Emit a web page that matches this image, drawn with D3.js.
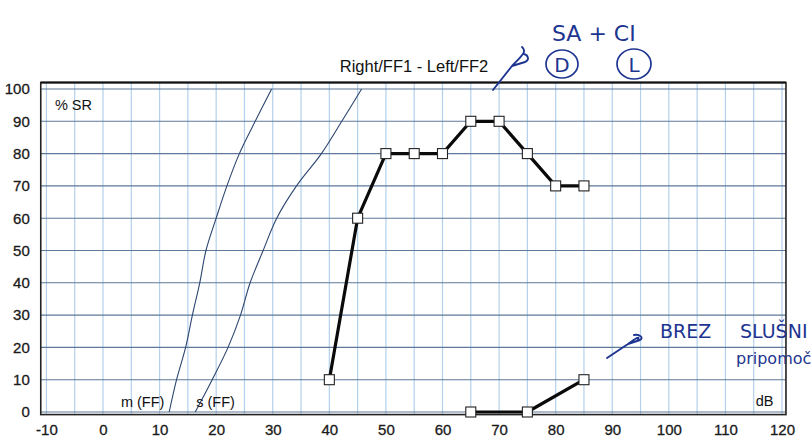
<!DOCTYPE html>
<html><head><meta charset="utf-8">
<script src="https://cdnjs.cloudflare.com/ajax/libs/d3/7.8.5/d3.min.js"></script>
<style>
html,body{margin:0;padding:0;background:#fff;}
svg{display:block;}
text{font-family:"Liberation Sans",Arial,sans-serif;}
.hand{font-family:"DejaVu Sans",sans-serif;fill:#1d3590;}
</style></head><body>
<script>
// ---- data ----
const xTicks = [-10,0,10,20,30,40,50,60,70,80,90,100,110,120];
const yTicks = [0,10,20,30,40,50,60,70,80,90,100];
const title = "Right/FF1 - Left/FF2";
// reference curves (normal hearing): m (FF) and s (FF)
const mCurveDb  = [11.7,13.0,14.6,15.8,17.1,18.2,20.0,21.9,24.1,26.9,29.8];
const mCurvePct = [0,10,20,30,40,50,60,70,80,90,100];
const sCurveDb  = [16.3,19.3,22.1,24.3,26.0,28.3,30.7,34.2,38.6,42.2,45.7];
const sCurvePct = [0,10,20,30,40,50,60,70,80,90,100];
// measured series
const ff1Db  = [40,45,50,55,60,65,70,75,80,85];
const ff1Pct = [10,60,80,80,80,90,90,80,70,70];
const ff2Db  = [65,75,85];
const ff2Pct = [0,0,10];

const W=812,H=439;
const svg=d3.select("body").append("svg").attr("width",W).attr("height",H);
const x=d3.scaleLinear().domain([0,120]).range([103,782]);
const y=d3.scaleLinear().domain([0,100]).range([412,89]);
const xL=x(-11), xR=x(120.7), yT=y(102), yB=y(-0.8);

// vertical grid every 5 dB
const vg=d3.range(-10,121,5);
svg.append("g").selectAll("line").data(vg).join("line")
  .attr("x1",d=>x(d)).attr("x2",d=>x(d)).attr("y1",yT).attr("y2",yB)
  .attr("stroke","#b3d0ec").attr("stroke-width",1.2);
// horizontal grid every 10 %
svg.append("g").selectAll("line").data(yTicks).join("line")
  .attr("x1",xL).attr("x2",xR).attr("y1",d=>y(d)).attr("y2",d=>y(d))
  .attr("stroke","#5d7898").attr("stroke-width",1.1);

// frame
svg.append("rect").attr("x",xL).attr("y",yT).attr("width",xR-xL).attr("height",yB-yT)
  .attr("fill","none").attr("stroke","#222").attr("stroke-width",1.6);
svg.append("line").attr("x1",xL).attr("x2",xR).attr("y1",yT).attr("y2",yT)
  .attr("stroke","#111").attr("stroke-width",2);

// axes
const fmt=d=>String(d);
const ax=svg.append("g").attr("transform",`translate(0,${yB+5})`)
  .call(d3.axisBottom(x).tickValues(xTicks).tickSize(0).tickFormat(fmt));
ax.select(".domain").remove();
ax.selectAll("text").attr("font-size",15).attr("fill","#1a1a1a").attr("stroke","#1a1a1a").attr("stroke-width",0.3).attr("dy","0.85em");
const ay=svg.append("g").attr("transform",`translate(${xL-8},0)`)
  .call(d3.axisLeft(y).tickValues(yTicks).tickSize(0).tickFormat(fmt));
ay.select(".domain").remove();
ay.selectAll("text").attr("font-size",15).attr("fill","#1a1a1a").attr("stroke","#1a1a1a").attr("stroke-width",0.3);

// labels
svg.append("text").attr("x",x(-8.5)).attr("y",y(95)+5).attr("font-size",14.5).attr("fill","#111").text("% SR");
svg.append("text").attr("x",x(118.5)).attr("y",y(2)).attr("text-anchor","end").attr("font-size",14.5).attr("fill","#111").text("dB");
svg.append("text").attr("x",414).attr("y",72).attr("text-anchor","middle").attr("font-size",16.5).attr("fill","#111").text(title);

// reference curves
const line=d3.line().x(d=>x(d[0])).y(d=>y(d[1]));
const smooth=d3.line().x(d=>x(d[0])).y(d=>y(d[1])).curve(d3.curveCatmullRom);
svg.append("path").datum(mCurveDb.map((d,i)=>[d,mCurvePct[i]])).attr("d",smooth)
  .attr("fill","none").attr("stroke","#2d4670").attr("stroke-width",1.1);
svg.append("path").datum(sCurveDb.map((d,i)=>[d,sCurvePct[i]])).attr("d",smooth)
  .attr("fill","none").attr("stroke","#2d4670").attr("stroke-width",1.1);
svg.append("text").attr("x",x(11.2)-2).attr("y",y(1.5)).attr("text-anchor","end").attr("font-size",14.5).attr("fill","#111").text("m (FF)");
svg.append("text").attr("x",x(16.3)+1).attr("y",y(1.5)).attr("font-size",14.5).attr("fill","#111").text("s (FF)");

// measured series
function series(dbs,pcts){
  const pts=dbs.map((d,i)=>[d,pcts[i]]);
  svg.append("path").datum(pts).attr("d",line).attr("fill","none")
    .attr("stroke","#0a0a0a").attr("stroke-width",3.2).attr("stroke-linejoin","round");
  svg.append("g").selectAll("rect").data(pts).join("rect")
    .attr("x",d=>x(d[0])-5).attr("y",d=>y(d[1])-5).attr("width",10).attr("height",10)
    .attr("fill","#fff").attr("stroke","#222").attr("stroke-width",1.1);
}
series(ff1Db,ff1Pct);
series(ff2Db,ff2Pct);

// handwritten annotations
const ink="#1d3590";
svg.append("text").attr("class","hand").attr("x",552).attr("y",41).attr("font-size",22).text("SA + CI");
svg.append("ellipse").attr("cx",562).attr("cy",64).attr("rx",16).attr("ry",14).attr("fill","none").attr("stroke",ink).attr("stroke-width",1.7);
svg.append("text").attr("class","hand").attr("x",562).attr("y",72).attr("text-anchor","middle").attr("font-size",20).text("D");
svg.append("ellipse").attr("cx",634).attr("cy",64).attr("rx",17).attr("ry",15).attr("fill","none").attr("stroke",ink).attr("stroke-width",1.7);
svg.append("text").attr("class","hand").attr("x",634).attr("y",72).attr("text-anchor","middle").attr("font-size",20).text("L");
svg.append("path").attr("d","M493,90 L512,66 M512,66 C520,57 528,52 522,47 M512,66 L525,62 C530,60 528,55 524,54")
  .attr("fill","none").attr("stroke",ink).attr("stroke-width",1.9).attr("stroke-linecap","round");
svg.append("path").attr("d","M607,358 L628,344 C636,338 640,336 638,339 M628,344 L640,340 C644,338 640,334 634,335")
  .attr("fill","none").attr("stroke",ink).attr("stroke-width",1.9).attr("stroke-linecap","round");
svg.append("text").attr("class","hand").attr("x",660).attr("y",338).attr("font-size",19).text("BREZ");
svg.append("text").attr("class","hand").attr("x",740).attr("y",338).attr("font-size",19).text("SLUŠNI");
svg.append("text").attr("class","hand").attr("x",736).attr("y",364).attr("font-size",16).text("pripomoč");
</script>
</body></html>
